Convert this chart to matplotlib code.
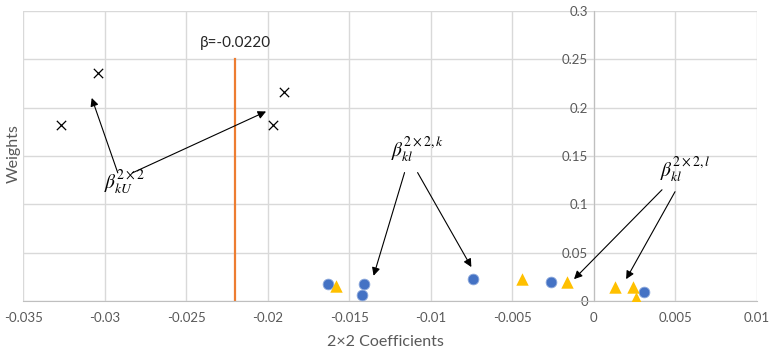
import numpy as np
import matplotlib.pyplot as plt
from matplotlib.ticker import FuncFormatter

plt.rcParams['font.family'] = ['Lato', 'DejaVu Sans']
plt.rcParams['mathtext.fontset'] = 'stix'

# Data
crossX = [-0.0327, -0.0304, -0.0197, -0.0190]
crossY = [0.182, 0.236, 0.182, 0.216]

circleX = [-0.0163, -0.0141, -0.0142, -0.0074, -0.0026, 0.0031]
circleY = [0.017, 0.017, 0.0065, 0.023, 0.020, 0.009]

triX = [-0.0158, -0.0044, -0.0016, 0.0013, 0.0024, 0.0026]
triY = [0.0155, 0.0225, 0.020, 0.014, 0.014, 0.0035]

beta = -0.022
betaTop = 0.25

xTicks = np.arange(-0.035, 0.0101, 0.005)
yTicks = np.arange(0, 0.301, 0.05)

fig = plt.figure(figsize=(7.71, 3.54), dpi=100)
ax = fig.add_axes([0.0302, 0.150, 0.951, 0.819])

ax.set_xlim(-0.035, 0.01)
ax.set_ylim(0, 0.3)
ax.set_xticks(xTicks)
ax.set_yticks(yTicks)
ax.grid(True, color="#d9d9d9", lw=1)
ax.set_axisbelow(True)

ax.xaxis.set_major_formatter(FuncFormatter(lambda v, p: f"{round(v, 4):g}"))
ax.yaxis.set_major_formatter(FuncFormatter(lambda v, p: f"{round(v, 3):g}"))

# Excel-like axes: y axis sits at x = 0
for s in ["top", "right"]:
    ax.spines[s].set_visible(False)
ax.spines["left"].set_position(("data", 0))
ax.spines["left"].set_color("#bfbfbf")
ax.spines["bottom"].set_color("#bfbfbf")
ax.tick_params(length=0, labelsize=9.5, labelcolor="#595959")
ax.tick_params(axis="x", pad=8)
ax.tick_params(axis="y", pad=4)

ax.plot([beta, beta], [0, betaTop], color="#ed7d31", lw=1.6, zorder=2)
ax.text(beta, 0.267, "β=-0.0220", ha="center", va="center",
        fontsize=11, color="#262626")

ax.scatter(crossX, crossY, marker="x", s=45, c="black", lw=0.9, zorder=3)
ax.scatter(circleX, circleY, marker="o", s=60, c="#4472c4",
           edgecolors="#8faadc", lw=0.6, zorder=3)
ax.scatter(triX, triY, marker="^", s=80, c="#ffc000", lw=0, zorder=4)

arrow = dict(arrowstyle="-|>", color="black", lw=0.8, mutation_scale=12,
             shrinkA=0, shrinkB=0)

# beta_kU labels
ax.text(-0.0288, 0.122, r"$\beta_{kU}^{2\times2}$", ha="center", va="center",
        fontsize=14)
ax.annotate("", xy=(-0.0308, 0.210), xytext=(-0.0292, 0.1325), arrowprops=arrow)
ax.annotate("", xy=(-0.0201, 0.196), xytext=(-0.0283, 0.1325), arrowprops=arrow)

# beta_kl k labels
ax.text(-0.0108, 0.157, r"$\beta_{kl}^{2\times2,k}$", ha="center", va="center",
        fontsize=14)
ax.annotate("", xy=(-0.0135, 0.026), xytext=(-0.0116, 0.1328), arrowprops=arrow)
ax.annotate("", xy=(-0.0075, 0.035), xytext=(-0.0108, 0.1328), arrowprops=arrow)

# beta_kl l labels
ax.text(0.0056, 0.136, r"$\beta_{kl}^{2\times2,l}$", ha="center", va="center",
        fontsize=14)
ax.annotate("", xy=(-0.0012, 0.0225), xytext=(0.0042, 0.115), arrowprops=arrow)
ax.annotate("", xy=(0.0020, 0.0225), xytext=(0.0050, 0.113), arrowprops=arrow)

fig.text(0.018, 0.565, "Weights", rotation=90, ha="center", va="center",
         fontsize=11.5, color="#595959")
fig.text(0.5, 0.034, "2×2 Coefficients", ha="center", va="center",
         fontsize=11.5, color="#595959")

fig.savefig("out.png", dpi=100)
